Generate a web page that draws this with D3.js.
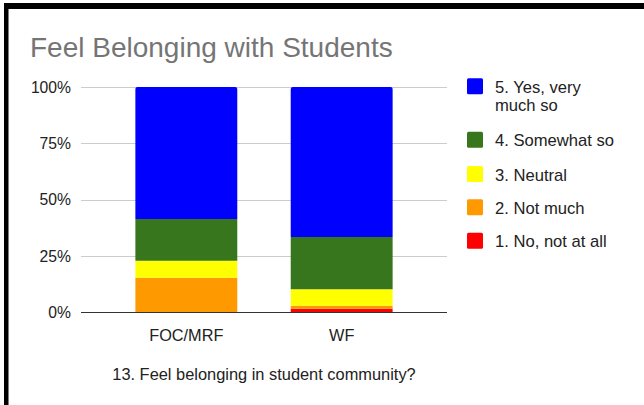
<!DOCTYPE html>
<html><head><meta charset="utf-8">
<script src="https://cdn.jsdelivr.net/npm/d3@7"></script>
<style>body{margin:0;background:#fff;}svg{display:block;font-family:"Liberation Sans",Arial,sans-serif;}</style>
</head><body>
<script>
const categories = ["FOC/MRF", "WF"];
const seriesNames = ["1. No, not at all", "2. Not much", "3. Neutral", "4. Somewhat so", "5. Yes, very much so"];
const seriesColors = ["#ff0000", "#ff9900", "#ffff00", "#38761d", "#0000ff"];
const noAtAll   = [0, 1.7];
const notMuch   = [15.4, 1.3];
const neutral   = [7.5, 7.3];
const somewhat  = [18.6, 23.2];
const yesVery   = [58.5, 66.5];
const yTicks = [0, 25, 50, 75, 100];
const tickLabels = ["0%", "25%", "50%", "75%", "100%"];
const title = "Feel Belonging with Students";
const xTitle = "13. Feel belonging in student community?";

const W = 644, H = 405;
const svg = d3.select("body").append("svg").attr("width", W).attr("height", H);

// frame
svg.append("rect").attr("x", 4).attr("y", 3).attr("width", W - 4).attr("height", 6).attr("fill", "#000");
svg.append("rect").attr("x", 4).attr("y", 3).attr("width", 4.5).attr("height", H - 3).attr("fill", "#000");

svg.append("text").attr("x", 30).attr("y", 57).attr("font-size", 28).attr("fill", "#757575").text(title);

const x = d3.scaleBand().domain(categories).range([81, 447]).paddingInner(0.344).paddingOuter(0.35);
const y = d3.scaleLinear().domain([0, 100]).range([312.5, 87]);

// gridlines
svg.append("g").selectAll("line").data(yTicks.filter(d => d > 0)).join("line")
  .attr("x1", 81).attr("x2", 447).attr("y1", d => Math.round(y(d)) + 0.5).attr("y2", d => Math.round(y(d)) + 0.5)
  .attr("stroke", "#cccccc").attr("stroke-width", 1);

// y labels
svg.append("g").selectAll("text").data(yTicks).join("text")
  .attr("x", 71).attr("y", d => y(d) + 5.5).attr("text-anchor", "end").attr("font-size", 15.7).attr("fill", "#222")
  .text((d, i) => tickLabels[i]);

// stacked bars
const rows = categories.map((c, i) => ({cat: c, s0: noAtAll[i], s1: notMuch[i], s2: neutral[i], s3: somewhat[i], s4: yesVery[i]}));
const stack = d3.stack().keys(["s0", "s1", "s2", "s3", "s4"]);
const layers = stack(rows);
const bw = x.bandwidth();
layers.forEach((layer, li) => {
  svg.append("g").selectAll("path").data(layer).join("path")
    .attr("fill", seriesColors[li])
    .attr("d", d => {
      const x0 = x(d.data.cat), y0 = y(d[0]), y1 = y(d[1]);
      if (y0 - y1 <= 0) return "";
      const top = li === 4 ? 2 : 0;
      return `M${x0},${y0}V${y1 + top}Q${x0},${y1} ${x0 + top},${y1}H${x0 + bw - top}Q${x0 + bw},${y1} ${x0 + bw},${y1 + top}V${y0}Z`;
    });
});

// baseline
svg.append("line").attr("x1", 81).attr("x2", 447).attr("y1", 312.5).attr("y2", 312.5).attr("stroke", "#333").attr("stroke-width", 1.2);

// x labels
svg.append("g").selectAll("text").data(categories).join("text")
  .attr("x", d => x(d) + bw / 2).attr("y", 341).attr("text-anchor", "middle").attr("font-size", 16.3).attr("fill", "#222").text(d => d);

svg.append("text").attr("x", 264).attr("y", 380).attr("text-anchor", "middle").attr("font-size", 16.4).attr("fill", "#222").text(xTitle);

// legend
const legendOrder = [4, 3, 2, 1, 0];
const legendY = [78.3, 131.7, 166, 199.3, 232.7];
const lg = svg.append("g");
legendOrder.forEach((si, k) => {
  const yy = legendY[k];
  lg.append("rect").attr("x", 467).attr("y", yy).attr("width", 16).attr("height", 16).attr("rx", 1.5).attr("fill", seriesColors[si]);
  const t = lg.append("text").attr("x", 495).attr("y", yy + 14.5).attr("font-size", 16.6).attr("fill", "#222");
  if (si === 4) {
    t.append("tspan").attr("x", 495).text("5. Yes, very");
    t.append("tspan").attr("x", 495).attr("dy", 18.4).text("much so");
  } else {
    t.text(seriesNames[si]);
  }
});
</script>
</body></html>
